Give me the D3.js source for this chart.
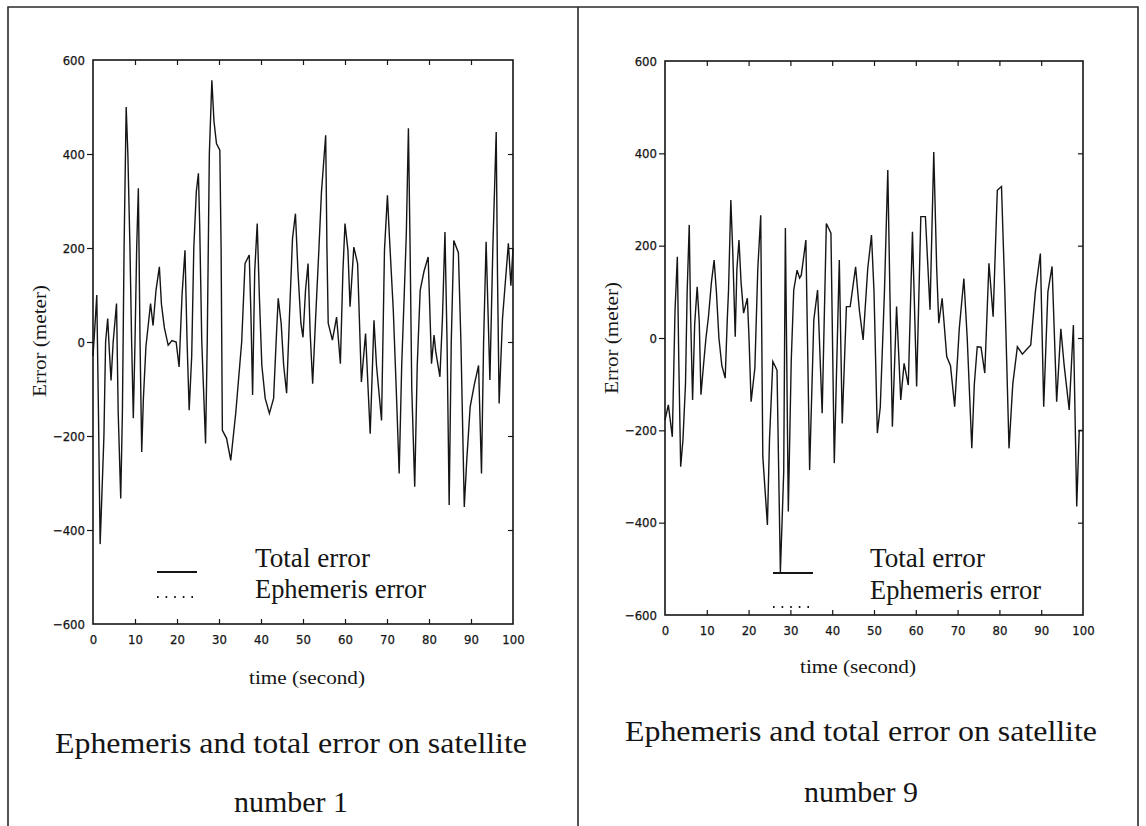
<!DOCTYPE html>
<html><head><meta charset="utf-8">
<script src="https://cdn.jsdelivr.net/npm/d3@7/dist/d3.min.js"></script>
<style>html,body{margin:0;padding:0;background:#fff;} svg{display:block;}</style>
</head><body><svg id="c" width="1146" height="826"></svg>
<script>
// ---------- data ----------
const xTicks = [0,10,20,30,40,50,60,70,80,90,100];
const yTicks = [-600,-400,-200,0,200,400,600];
const legendLabels = ["Total error","Ephemeris error"];
const xTitle = "time (second)";
const yTitle = "Error (meter)";
const titleLine1 = "Ephemeris and total error on satellite";
const titleLines2 = ["number 1","number 9"];

// satellite 1: total error
const time1 = [0,0.5,0.9,1.3,1.7,2.1,2.6,3.0,3.5,3.9,4.3,4.8,5.6,6.0,6.6,7.0,7.4,7.9,8.3,8.8,9.2,9.6,10.0,10.4,10.8,11.2,11.6,12.0,12.6,13.2,13.7,14.3,15.0,15.8,16.3,17.0,17.9,18.8,19.8,20.5,21.2,21.9,22.4,22.9,23.5,24.0,24.6,25.1,25.4,25.9,26.8,27.2,27.7,28.3,28.8,29.4,30.2,30.5,30.8,31.8,32.8,34.0,35.4,36.2,37.2,37.6,38.0,38.5,39.1,39.6,40.2,41.0,42.0,43.0,43.7,44.1,44.8,45.4,46.1,46.8,47.5,48.2,48.8,49.5,50.0,50.6,51.2,51.7,52.3,53.0,53.8,54.4,55.4,55.7,56.0,57.0,58.0,58.9,59.5,60.0,60.7,61.2,62.1,63.0,63.9,64.9,65.5,66.0,66.9,67.5,68.7,69.4,70.1,70.6,71.5,72.2,72.9,73.5,74.1,74.6,75.1,75.5,75.9,76.6,77.2,77.9,78.8,79.8,80.6,81.2,81.6,82.6,83.2,83.8,84.3,84.8,85.3,85.9,87.0,87.6,88.4,89.0,89.8,90.8,91.8,92.5,93.0,93.6,94.5,95.2,96.0,96.3,96.7,97.5,98.9,99.5,100];
const total1 = [-30,40,100,-150,-430,-330,-200,0,50,-20,-82,0,82,-150,-333,-150,200,500,400,200,0,-162,0,200,327,0,-234,-120,-10,40,82,35,110,160,80,30,-7,3,0,-53,100,195,0,-145,-30,200,320,359,250,0,-216,0,400,557,470,422,408,200,-188,-205,-252,-150,0,167,185,60,-113,150,252,100,-50,-120,-152,-120,20,93,40,-50,-109,60,220,273,150,40,10,110,167,20,-89,50,200,320,440,200,40,4,53,-46,150,252,195,75,202,167,-85,18,-100,-195,46,-50,-167,195,312,220,67,-100,-280,-50,100,230,455,200,-100,-308,-50,110,150,181,-46,15,-20,-74,50,234,0,-347,0,216,190,0,-351,-250,-138,-90,-50,-280,0,213,-81,200,447,150,-131,50,210,120,200];

// satellite 9: total error
const time9 = [0,0.8,1.75,2.4,2.95,3.3,3.75,4.3,4.9,5.3,5.8,6.1,6.6,7.1,7.7,8.2,8.6,9.2,9.8,10.4,11.1,11.75,12.3,12.9,13.6,14.4,14.9,15.2,15.75,16.2,16.8,17.2,17.7,18.2,18.8,19.7,20.1,20.6,21.5,22.2,22.9,23.4,24.5,25.0,25.8,26.3,26.8,27.6,28.0,28.4,28.8,29.5,30.2,30.8,31.6,32.2,32.6,33.7,34.6,35.6,36.5,37.6,38.6,39.7,40.5,41.7,42.4,43.4,44.3,45.6,46.5,47.4,48.5,49.4,50.0,50.8,51.5,52.5,53.3,53.8,54.4,55.4,56.4,57.2,58.2,59.2,60.2,61.2,62.3,63.4,64.3,65.0,65.5,66.3,67.4,68.3,69.3,70.4,71.5,72.3,73.4,74.0,74.7,75.6,76.5,77.5,78.5,79.5,80.5,81.3,82.3,83.2,84.3,85.5,86.5,87.5,88.6,89.8,90.6,91.6,92.6,93.7,94.7,95.5,96.7,97.7,98.5,99.1,99.8];
const total9 = [-178,-145,-214,60,176,-50,-279,-220,-100,100,245,60,-134,30,111,34,-123,-60,0,46,120,169,100,0,-60,-87,40,104,299,190,3,150,212,120,54,86,0,-138,-65,150,266,-257,-405,-220,-51,-60,-70,-507,-400,-290,238,-376,-50,104,147,130,136,212,-286,39,104,-163,248,227,-271,169,-185,68,68,154,60,-4,150,223,100,-206,-150,100,364,100,-192,68,-134,-55,-102,230,-105,263,263,61,403,150,32,86,-40,-60,-149,20,129,0,-239,-100,-19,-20,-76,162,46,320,328,100,-239,-100,-19,-35,-25,-15,100,183,-149,100,155,-138,20,-60,-156,28,-365,-200,-200];

// ---------- layout ----------
const svg = d3.select("#c");
const ink = "#151515";
const serif = "'Liberation Serif','Times New Roman',serif";
const narrow = "'Liberation Sans Narrow','DejaVu Sans Condensed','Arial Narrow',sans-serif";

svg.append("rect").attr("x",0).attr("y",0).attr("width",1146).attr("height",826).attr("fill","#fff");
svg.append("path").attr("d","M8,840V7H1138V840M578,7V840")
  .attr("fill","none").attr("stroke","#2a2a2a").attr("stroke-width",1.6);

const panels = [
  {time: time1, total: total1, L:93, R:513, T:60, B:624, ylabX:40, ylabY:341, xlabX:307, xlabY:684,
   legLineY:572, legDotY:597, legX0:157, legX1:197, legTextX:255, legY1:567, legY2:598,
   tX:291, t1Y:753, t2Y:812, title2: titleLines2[0]},
  {time: time9, total: total9, L:665, R:1083, T:61, B:615, ylabX:612, ylabY:338, xlabX:858, xlabY:673,
   legLineY:573, legDotY:607, legX0:773, legX1:813, legTextX:870, legY1:567, legY2:599,
   tX:861, t1Y:741, t2Y:802, title2: titleLines2[1]}
];

panels.forEach(p => {
  const x = d3.scaleLinear().domain([0,100]).range([p.L,p.R]);
  const y = d3.scaleLinear().domain([-600,600]).range([p.B,p.T]);
  const g = svg.append("g");
  const inner = xTicks.slice(1,-1), innerY = yTicks.slice(1,-1);

  const tickStyle = sel => { sel.select(".domain").remove(); sel.selectAll("line").attr("stroke",ink).attr("stroke-width",1.2); sel.selectAll("text").remove(); };
  g.append("g").attr("transform",`translate(0,${p.B})`).call(d3.axisBottom(x).tickValues(inner).tickSize(-5)).call(tickStyle);
  g.append("g").attr("transform",`translate(0,${p.T})`).call(d3.axisTop(x).tickValues(inner).tickSize(-5)).call(tickStyle);
  g.append("g").attr("transform",`translate(${p.L},0)`).call(d3.axisLeft(y).tickValues(innerY).tickSize(6)).call(tickStyle);
  g.append("g").attr("transform",`translate(${p.R},0)`).call(d3.axisRight(y).tickValues(innerY).tickSize(-5)).call(tickStyle);

  const labStyle = sel => { sel.select(".domain").remove(); sel.selectAll("text").attr("font-family",narrow).attr("font-size",13).attr("fill",ink).attr("stroke",ink).attr("stroke-width",0.25); };
  g.append("g").attr("transform",`translate(0,${p.B})`)
    .call(d3.axisBottom(x).tickValues(xTicks).tickSize(0).tickPadding(11).tickFormat(d3.format("d"))).call(labStyle);
  g.append("g").attr("transform",`translate(${p.L},0)`)
    .call(d3.axisLeft(y).tickValues(yTicks).tickSize(0).tickPadding(8).tickFormat(d3.format("d"))).call(labStyle);

  g.append("rect").attr("x",p.L).attr("y",p.T).attr("width",p.R-p.L).attr("height",p.B-p.T)
    .attr("fill","none").attr("stroke",ink).attr("stroke-width",1.6);

  const pts = p.time.map((t,i)=>[t,p.total[i]]);
  g.append("path").datum(pts)
    .attr("d", d3.line().x(d=>x(d[0])).y(d=>y(d[1])))
    .attr("fill","none").attr("stroke",ink).attr("stroke-width",1.4).attr("stroke-linejoin","miter");

  g.append("line").attr("x1",p.legX0).attr("x2",p.legX1).attr("y1",p.legLineY).attr("y2",p.legLineY)
    .attr("stroke",ink).attr("stroke-width",2);
  g.append("line").attr("x1",p.legX0).attr("x2",p.legX1).attr("y1",p.legDotY).attr("y2",p.legDotY)
    .attr("stroke",ink).attr("stroke-width",1.8).attr("stroke-dasharray","1.6,7");
  g.append("text").attr("x",p.legTextX).attr("y",p.legY1).text(legendLabels[0])
    .attr("font-family",serif).attr("font-size",28).attr("fill",ink).attr("textLength",115).attr("lengthAdjust","spacingAndGlyphs");
  g.append("text").attr("x",p.legTextX).attr("y",p.legY2).text(legendLabels[1])
    .attr("font-family",serif).attr("font-size",28).attr("fill",ink).attr("textLength",171).attr("lengthAdjust","spacingAndGlyphs");

  g.append("text").attr("transform",`translate(${p.ylabX},${p.ylabY}) rotate(-90)`).attr("text-anchor","middle")
    .attr("dy","0.35em").text(yTitle).attr("font-family",serif).attr("font-size",18).attr("fill",ink)
    .attr("textLength",112).attr("lengthAdjust","spacingAndGlyphs");
  g.append("text").attr("x",p.xlabX).attr("y",p.xlabY).attr("text-anchor","middle").text(xTitle)
    .attr("font-family",serif).attr("font-size",18).attr("fill",ink)
    .attr("textLength",116).attr("lengthAdjust","spacingAndGlyphs");

  g.append("text").attr("x",p.tX).attr("y",p.t1Y).attr("text-anchor","middle").text(titleLine1)
    .attr("font-family",serif).attr("font-size",30).attr("fill",ink)
    .attr("textLength",472).attr("lengthAdjust","spacingAndGlyphs");
  g.append("text").attr("x",p.tX).attr("y",p.t2Y).attr("text-anchor","middle").text(p.title2)
    .attr("font-family",serif).attr("font-size",30).attr("fill",ink);
});
</script></body></html>
